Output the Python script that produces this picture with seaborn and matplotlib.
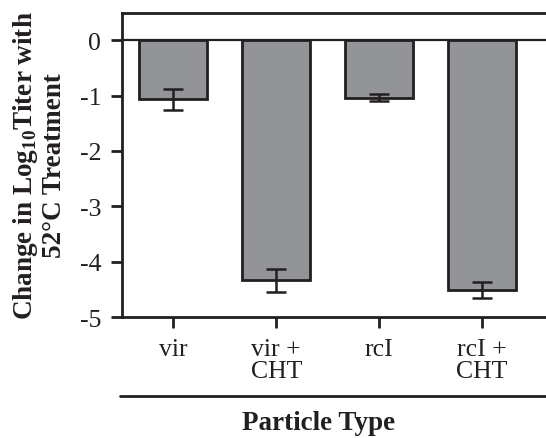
import numpy as np
import matplotlib
matplotlib.use("Agg")
import matplotlib.pyplot as plt
import seaborn as sns
from matplotlib.lines import Line2D

# values
particles = ["vir", "vir +\nCHT", "rcI", "rcI +\nCHT"]
titer_change = [-1.07, -4.34, -1.04, -4.51]
titer_err = [0.19, 0.21, 0.065, 0.14]

sns.set_theme(style="ticks")
plt.rcParams["font.family"] = ["Liberation Serif", "DejaVu Serif"]
plt.rcParams["mathtext.fontset"] = "custom"
plt.rcParams["mathtext.rm"] = "Liberation Serif"
plt.rcParams["mathtext.bf"] = "Liberation Serif:bold"

fig = plt.figure(figsize=(5.46, 4.39), dpi=100)
ax = fig.add_axes([0.2234, 0.2756, 0.81, 0.6925])

sns.barplot(x=particles, y=titer_change, color="#929497", edgecolor="#231f20",
            linewidth=2, width=0.66, saturation=1, ax=ax)
ax.errorbar(x=np.arange(len(particles)), y=titer_change, yerr=titer_err,
            fmt="none", ecolor="#231f20", elinewidth=1.8, capsize=7, capthick=1.8)

ax.axhline(0, color="#231f20", lw=1.6, zorder=0.5)
ax.set_ylim(-5, 0.49)
ax.set_xlim(-0.5, 3.8)
ax.set_yticks([0, -1, -2, -3, -4, -5])
ax.set_yticklabels(["0", "-1", "-2", "-3", "-4", "-5"])

for s in ax.spines.values():
    s.set_linewidth(2)
    s.set_color("#231f20")

ax.tick_params(axis="both", direction="out", length=8, width=2, color="#231f20",
               labelsize=18.5, labelcolor="#231f20", pad=7)
for lbl in ax.get_xticklabels():
    lbl.set_linespacing(1.0)

ax.set_xlabel("")
ax.set_ylabel("Change in Log$_{\\mathbf{10}}$Titer with\n52°C Treatment",
              fontsize=19.5, fontweight="bold", color="#231f20", linespacing=1.1,
              labelpad=9)

# bracket line under the category labels
fig.add_artist(Line2D([120 / 546, 1.0], [0.0957, 0.0957], color="#231f20", lw=2))
fig.text(0.583, 0.036, "Particle Type", ha="center", va="center", fontsize=19.5,
         fontweight="bold", color="#231f20")

fig.savefig("out.png", dpi=100)
